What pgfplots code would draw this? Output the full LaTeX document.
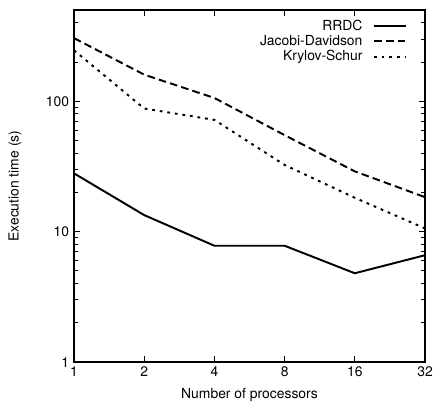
\documentclass[border=0pt]{standalone}
\usepackage{fontspec}
\setmainfont{TeX Gyre Heros}
\usepackage{pgfplots}
\pgfplotsset{compat=1.18}

\begin{document}
\begin{tikzpicture}
\path[use as bounding box] (-53.3pt,-30.2pt) rectangle (259.9pt,260.7pt);
\begin{axis}[
  scale only axis,
  width=252.7pt, height=253.4pt,
  xmode=log, log basis x=2,
  ymode=log,
  xmin=1, xmax=32, ymin=1, ymax=500,
  xtick={1,2,4,8,16,32}, xticklabels={1,2,4,8,16,32},
  minor xtick={},
  ytick={1,10,100}, yticklabels={1,10,100},
  minor ytick={2,3,4,5,6,7,8,9,20,30,40,50,60,70,80,90,200,300,400},
  tick align=inside,
  major tick length=4.3pt, minor tick length=2.6pt,
  every tick/.style={black, line width=0.7pt},
  axis line style={line width=1pt},
  xlabel={Number of processors},
  ylabel={Execution time (s)},
  x label style={at={(axis description cs:0.5,-0.094)}, anchor=center},
  y label style={at={(axis description cs:-0.168,0.5)}, anchor=center},
  legend style={draw=none, fill=none, at={(1,1)}, anchor=north east,
    xshift=-10pt, yshift=-3pt, row sep=-2pt},
  legend cell align=right,
  legend plot pos=right,
  legend image code/.code={\path (0cm,0cm);
    \draw[#1, line width=1.4pt] (0.2cm,0cm) -- (1.0cm,0cm);},
]
\addplot[black, line width=1.4pt] coordinates {
  (1,28) (2,13.4) (4,7.8) (8,7.8) (16,4.8) (32,6.6)
};
\addlegendentry{RRDC}
\addplot[black, line width=1.4pt, dash pattern=on 5.5pt off 3pt] coordinates {
  (1,305) (2,160) (4,106) (8,55) (16,29) (32,18.4)
};
\addlegendentry{Jacobi-Davidson}
\addplot[black, line width=1.4pt, dash pattern=on 2pt off 3.5pt] coordinates {
  (1,246) (2,88) (4,72) (8,32.5) (16,18.2) (32,10.6)
};
\addlegendentry{Krylov-Schur}
\end{axis}
\end{tikzpicture}
\end{document}
